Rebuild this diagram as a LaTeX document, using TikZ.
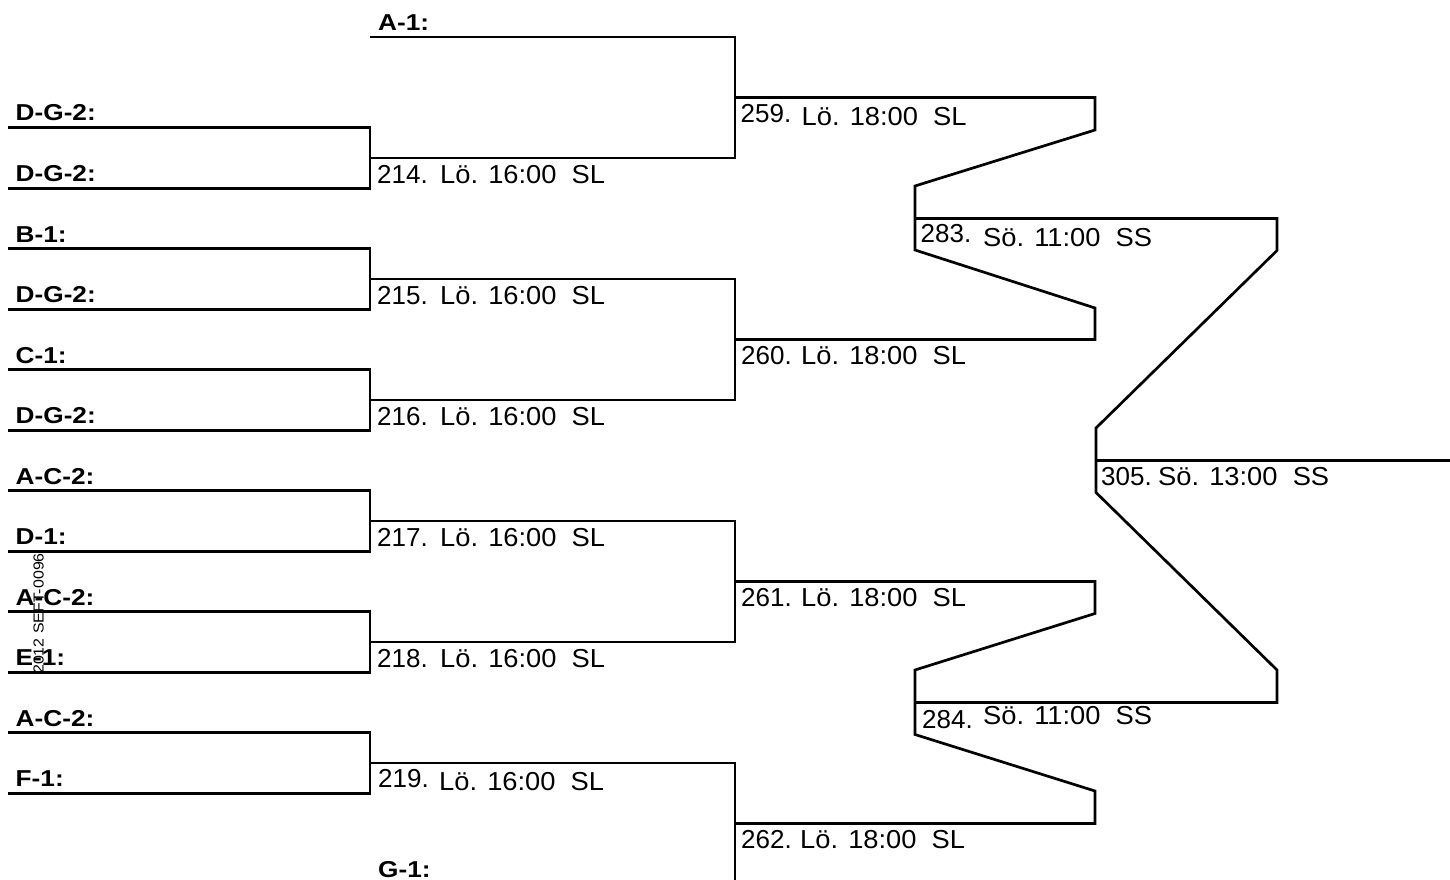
\documentclass[tikz,border=0pt]{standalone}
\usepackage{fontspec}
\setmainfont{Liberation Sans}
\newfontfamily\numfont{Liberation Sans}
\newfontfamily\labfont[FakeStretch=1.05]{Liberation Sans}
\newfontfamily\teamfont[FakeStretch=1.14]{Liberation Sans}
\newfontfamily\codefont[FakeStretch=1.1]{Liberation Sans}
\tikzset{
  ln/.style={line width=2.7pt, line join=miter},
  team/.style={anchor=base west, inner sep=0pt, font=\teamfont\bfseries\fontsize{23}{26}\selectfont},
  mnum/.style={anchor=base west, inner sep=0pt, font=\numfont\fontsize{26}{30}\selectfont},
  mday/.style={anchor=base west, inner sep=0pt, font=\labfont\fontsize{26}{30}\selectfont},
}
\begin{document}
\begin{tikzpicture}[x=1pt,y=-1pt]
\useasboundingbox (0,0) rectangle (1450,880);
\clip (0,0) rectangle (1450,880);
% team slots
\coordinate (s1) at (8,127.7);
\coordinate (s2) at (8,188.2);
\coordinate (s3) at (8,248.7);
\coordinate (s4) at (8,309.2);
\coordinate (s5) at (8,369.7);
\coordinate (s6) at (8,430.2);
\coordinate (s7) at (8,490.7);
\coordinate (s8) at (8,551.2);
\coordinate (s9) at (8,611.7);
\coordinate (s10) at (8,672.2);
\coordinate (s11) at (8,732.7);
\coordinate (s12) at (8,793.2);
\coordinate (a1) at (370,36.95);
\coordinate (g1) at (370,883.95);
% matches
\coordinate (m214) at (370,157.95);
\coordinate (m215) at (370,278.95);
\coordinate (m216) at (370,399.95);
\coordinate (m217) at (370,520.95);
\coordinate (m218) at (370,641.95);
\coordinate (m219) at (370,762.95);
\coordinate (m259) at (735,97.45);
\coordinate (m260) at (735,339.45);
\coordinate (m261) at (735,581.45);
\coordinate (m262) at (735,823.45);
\coordinate (m283) at (915,218.45);
\coordinate (m284) at (915,702.45);
\coordinate (m305) at (1096,460.45);
\coordinate (e305) at (1452,460.45);
% round 1
\draw[ln] (s1) -| (m214) |- (s2);
\draw[ln] (s3) -| (m215) |- (s4);
\draw[ln] (s5) -| (m216) |- (s6);
\draw[ln] (s7) -| (m217) |- (s8);
\draw[ln] (s9) -| (m218) |- (s10);
\draw[ln] (s11) -| (m219) |- (s12);
% round 2
\draw[ln] (a1) -| (m259) |- (m214);
\draw[ln] (m215) -| (m260) |- (m216);
\draw[ln] (m217) -| (m261) |- (m218);
\draw[ln] (m219) -| (m262) |- (g1);
% round 3
\draw[ln] (m259) -- (1095,97.45) -- (1095,130) -- (915,186) -- (m283) -- (915,250) -- (1095,308) -- (1095,339.45) -- (m260);
\draw[ln] (m261) -- (1095,581.45) -- (1095,613.5) -- (915,670) -- (m284) -- (915,734.5) -- (1095,791) -- (1095,823.45) -- (m262);
% round 4
\draw[ln] (m283) -- (1277,218.45) -- (1277,250.5) -- (1096,428) -- (m305) -- (1096,492.5) -- (1277,670) -- (1277,702.45) -- (m284);
\draw[ln] (m305) -- (e305);
% team labels
\node[team] (t1) at (15.5,121) {D-G-2:};
\node[team] (t2) at (15.5,181.5) {D-G-2:};
\node[team] (t3) at (15.5,242) {B-1:};
\node[team] (t4) at (15.5,302.5) {D-G-2:};
\node[team] (t5) at (15.5,363) {C-1:};
\node[team] (t6) at (15.5,423.5) {D-G-2:};
\node[team] (t7) at (15.5,484) {A-C-2:};
\node[team] (t8) at (15.5,544.5) {D-1:};
\node[team] (t9) at (15.5,605) {A-C-2:};
\node[team] (t10) at (15.5,665.5) {E-1:};
\node[team] (t11) at (15.5,726) {A-C-2:};
\node[team] (t12) at (15.5,786.5) {F-1:};
\node[team] (ta1) at (378,30.2) {A-1:};
\node[team] (tg1) at (378,877) {G-1:};
% match labels
\node[mnum] (n214) at (377,183) {214.};
\node[mday] (d214) at (440,183) {Lö. 16:00~~SL};
\node[mnum] (n215) at (377,304) {215.};
\node[mday] (d215) at (440,304) {Lö. 16:00~~SL};
\node[mnum] (n216) at (377,425) {216.};
\node[mday] (d216) at (440,425) {Lö. 16:00~~SL};
\node[mnum] (n217) at (377,546) {217.};
\node[mday] (d217) at (440,546) {Lö. 16:00~~SL};
\node[mnum] (n218) at (377,667) {218.};
\node[mday] (d218) at (440,667) {Lö. 16:00~~SL};
\node[mnum] (n219) at (378,787) {219.};
\node[mday] (d219) at (439,790) {Lö. 16:00~~SL};
\node[mnum] (n259) at (740.5,122) {259.};
\node[mday] (d259) at (801.5,125.5) {Lö. 18:00~~SL};
\node[mnum] (n260) at (741,364.5) {260.};
\node[mday] (d260) at (801,364.5) {Lö. 18:00~~SL};
\node[mnum] (n261) at (741,606.5) {261.};
\node[mday] (d261) at (801,606.5) {Lö. 18:00~~SL};
\node[mnum] (n262) at (741,848.5) {262.};
\node[mday] (d262) at (800,848.5) {Lö. 18:00~~SL};
\node[mnum] (n283) at (920.5,242.5) {283.};
\node[mday] (d283) at (983,246) {Sö. 11:00~~SS};
\node[mnum] (n284) at (922,728) {284.};
\node[mday] (d284) at (983,724.5) {Sö. 11:00~~SS};
\node[mnum] (n305) at (1101,485) {305.};
\node[mday] (d305) at (1158,485) {Sö. 13:00~~SS};
% code
\node[anchor=base west, rotate=90, inner sep=0pt, font=\codefont\fontsize{14.5}{16}\selectfont] (code) at (43.5,674) {2012 SEFT-0096};
\end{tikzpicture}
\end{document}
